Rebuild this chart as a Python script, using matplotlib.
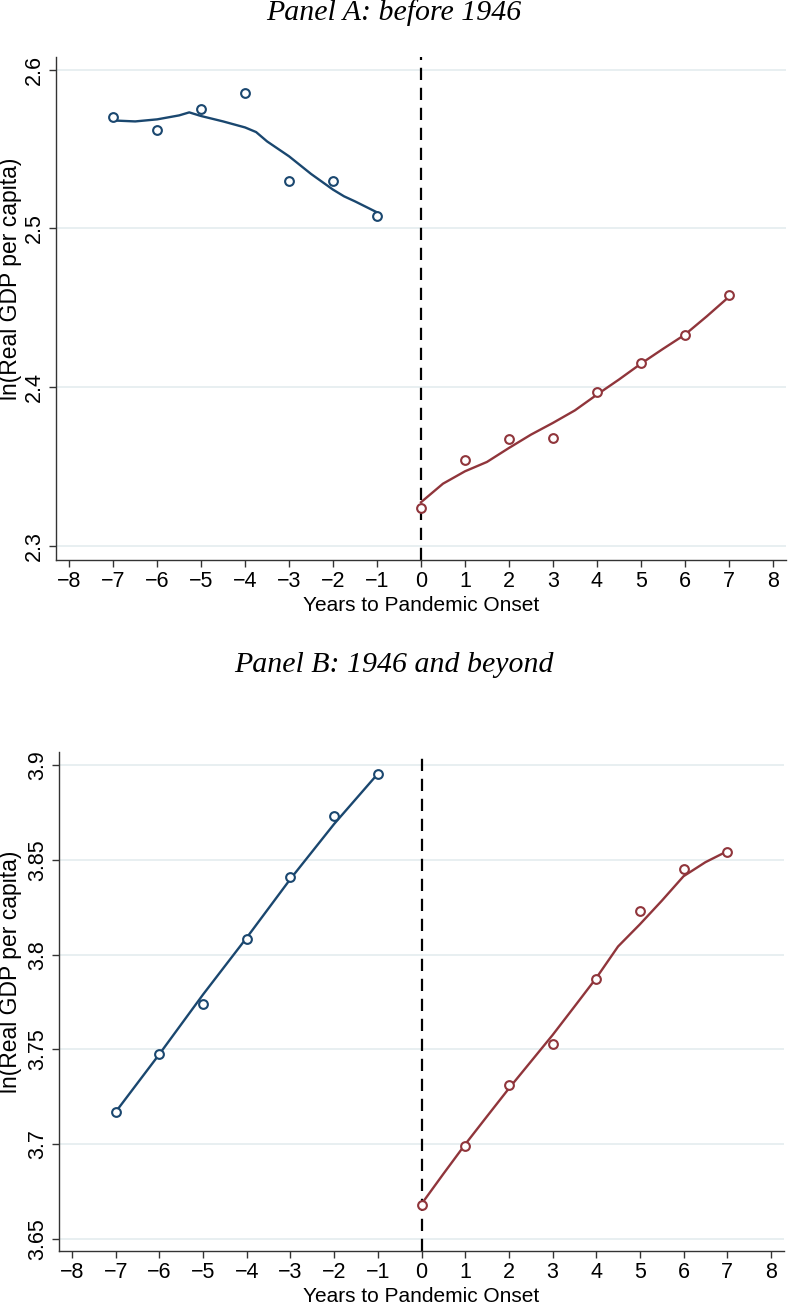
import matplotlib
matplotlib.use("Agg")
import matplotlib.pyplot as plt

# event time (years to pandemic onset)
years_pre = [-7, -6, -5, -4, -3, -2, -1]
years_post = [0, 1, 2, 3, 4, 5, 6, 7]

# Panel A: before 1946 -- binned means
a_pre = [2.570, 2.562, 2.575, 2.5855, 2.530, 2.530, 2.508]
a_post = [2.324, 2.354, 2.367, 2.368, 2.397, 2.415, 2.433, 2.458]

# Panel B: 1946 and beyond -- binned means
b_pre = [3.717, 3.7475, 3.774, 3.808, 3.841, 3.873, 3.8955]
b_post = [3.668, 3.699, 3.731, 3.753, 3.787, 3.823, 3.845, 3.854]

# smoothed fits
a_fit_pre_x = [-7, -6.5, -6, -5.5, -5.27, -5, -4.5, -4, -3.75, -3.5, -3, -2.5, -2, -1.75, -1.5, -1]
a_fit_pre = [2.568, 2.5674, 2.5687, 2.5712, 2.5731, 2.5708, 2.5674, 2.5636, 2.5607,
             2.5548, 2.5454, 2.5343, 2.5244, 2.5202, 2.517, 2.5101]
a_fit_post_x = [0, 0.5, 1, 1.5, 2, 2.5, 3, 3.5, 4, 4.5, 5, 5.5, 6, 6.5, 7]
a_fit_post = [2.3274, 2.3391, 2.3469, 2.3528, 2.3616, 2.370, 2.3774, 2.3853, 2.3952,
              2.4047, 2.4147, 2.424, 2.433, 2.4446, 2.4568]

b_fit_pre_x = [-7, -6, -5, -4, -3, -2, -1]
b_fit_pre = [3.717, 3.7475, 3.779, 3.809, 3.840, 3.869, 3.8955]
b_fit_post_x = [0, 0.5, 1, 1.5, 2, 2.5, 3, 3.5, 4, 4.5, 5, 5.5, 6, 6.5, 7]
b_fit_post = [3.6683, 3.6842, 3.6998, 3.7146, 3.7293, 3.7434, 3.7575, 3.7725, 3.7876,
              3.8043, 3.816, 3.8284, 3.8414, 3.8488, 3.8546]

x_ticks = list(range(-8, 9))
a_yticks = [2.3, 2.4, 2.5, 2.6]
a_ylabels = ["2.3", "2.4", "2.5", "2.6"]
b_yticks = [3.65, 3.7, 3.75, 3.8, 3.85, 3.9]
b_ylabels = ["3.65", "3.7", "3.75", "3.8", "3.85", "3.9"]

navy = "#1a476f"
maroon = "#90353b"
grid_col = "#e6eef0"

plt.rcParams["font.family"] = ["Liberation Sans", "DejaVu Sans"]

W, H = 788, 1304
fig = plt.figure(figsize=(W / 100, H / 100), dpi=100)


def panel(rect, title, pre, post, fx_pre, fy_pre, fx_post, fy_post, yticks, ylabels, ylim, title_y):
	ax = fig.add_axes(rect)
	ax.set_xlim(-8.3, 8.3)
	ax.set_ylim(*ylim)
	for y in yticks:
		ax.axhline(y, color=grid_col, lw=1.3, zorder=0)
	ax.axvline(0, color="black", lw=1.6, dashes=(5.5, 3.5), zorder=1)
	ax.plot(fx_pre, fy_pre, color=navy, lw=1.7, zorder=2)
	ax.plot(fx_post, fy_post, color=maroon, lw=1.7, zorder=2)
	ax.plot(years_pre, pre, "o", ms=6.3, mfc="white", mec=navy, mew=1.5, zorder=3)
	ax.plot(years_post, post, "o", ms=6.3, mfc="white", mec=maroon, mew=1.5, zorder=3)
	ax.set_xticks(x_ticks)
	ax.set_yticks(yticks)
	ax.set_yticklabels(ylabels, rotation=90, va="center")
	ax.tick_params(axis="both", labelsize=15.5, length=5, width=1, color="#333333", pad=3)
	for s in ["top", "right"]:
		ax.spines[s].set_visible(False)
	for s in ["left", "bottom"]:
		ax.spines[s].set_color("#333333")
		ax.spines[s].set_linewidth(1)
	ax.set_xlabel("Years to Pandemic Onset", fontsize=15, labelpad=3)
	ax.set_ylabel("ln(Real GDP per capita)", fontsize=16.5)
	# put the y title near the left edge of the figure, a bit above centre
	ax.yaxis.set_label_coords(-(rect[0] * W - 11) / (rect[2] * W), 0.56)
	ax.yaxis.label.set_va("center")
	fig.text(0.5, title_y, title, ha="center", va="center", fontsize=21.5,
		family="Liberation Serif", style="italic")
	return ax


panel([56 / W, 1 - 560 / H, 730 / W, 503 / H], "Panel A: before 1946",
	a_pre, a_post, a_fit_pre_x, a_fit_pre, a_fit_post_x, a_fit_post,
	a_yticks, a_ylabels, (2.291, 2.608), 1 - 13 / H)
panel([59 / W, 1 - 1251 / H, 725 / W, 499 / H], "Panel B: 1946 and beyond",
	b_pre, b_post, b_fit_pre_x, b_fit_pre, b_fit_post_x, b_fit_post,
	b_yticks, b_ylabels, (3.6435, 3.907), 1 - 665 / H)

fig.savefig("out.png", dpi=100)
